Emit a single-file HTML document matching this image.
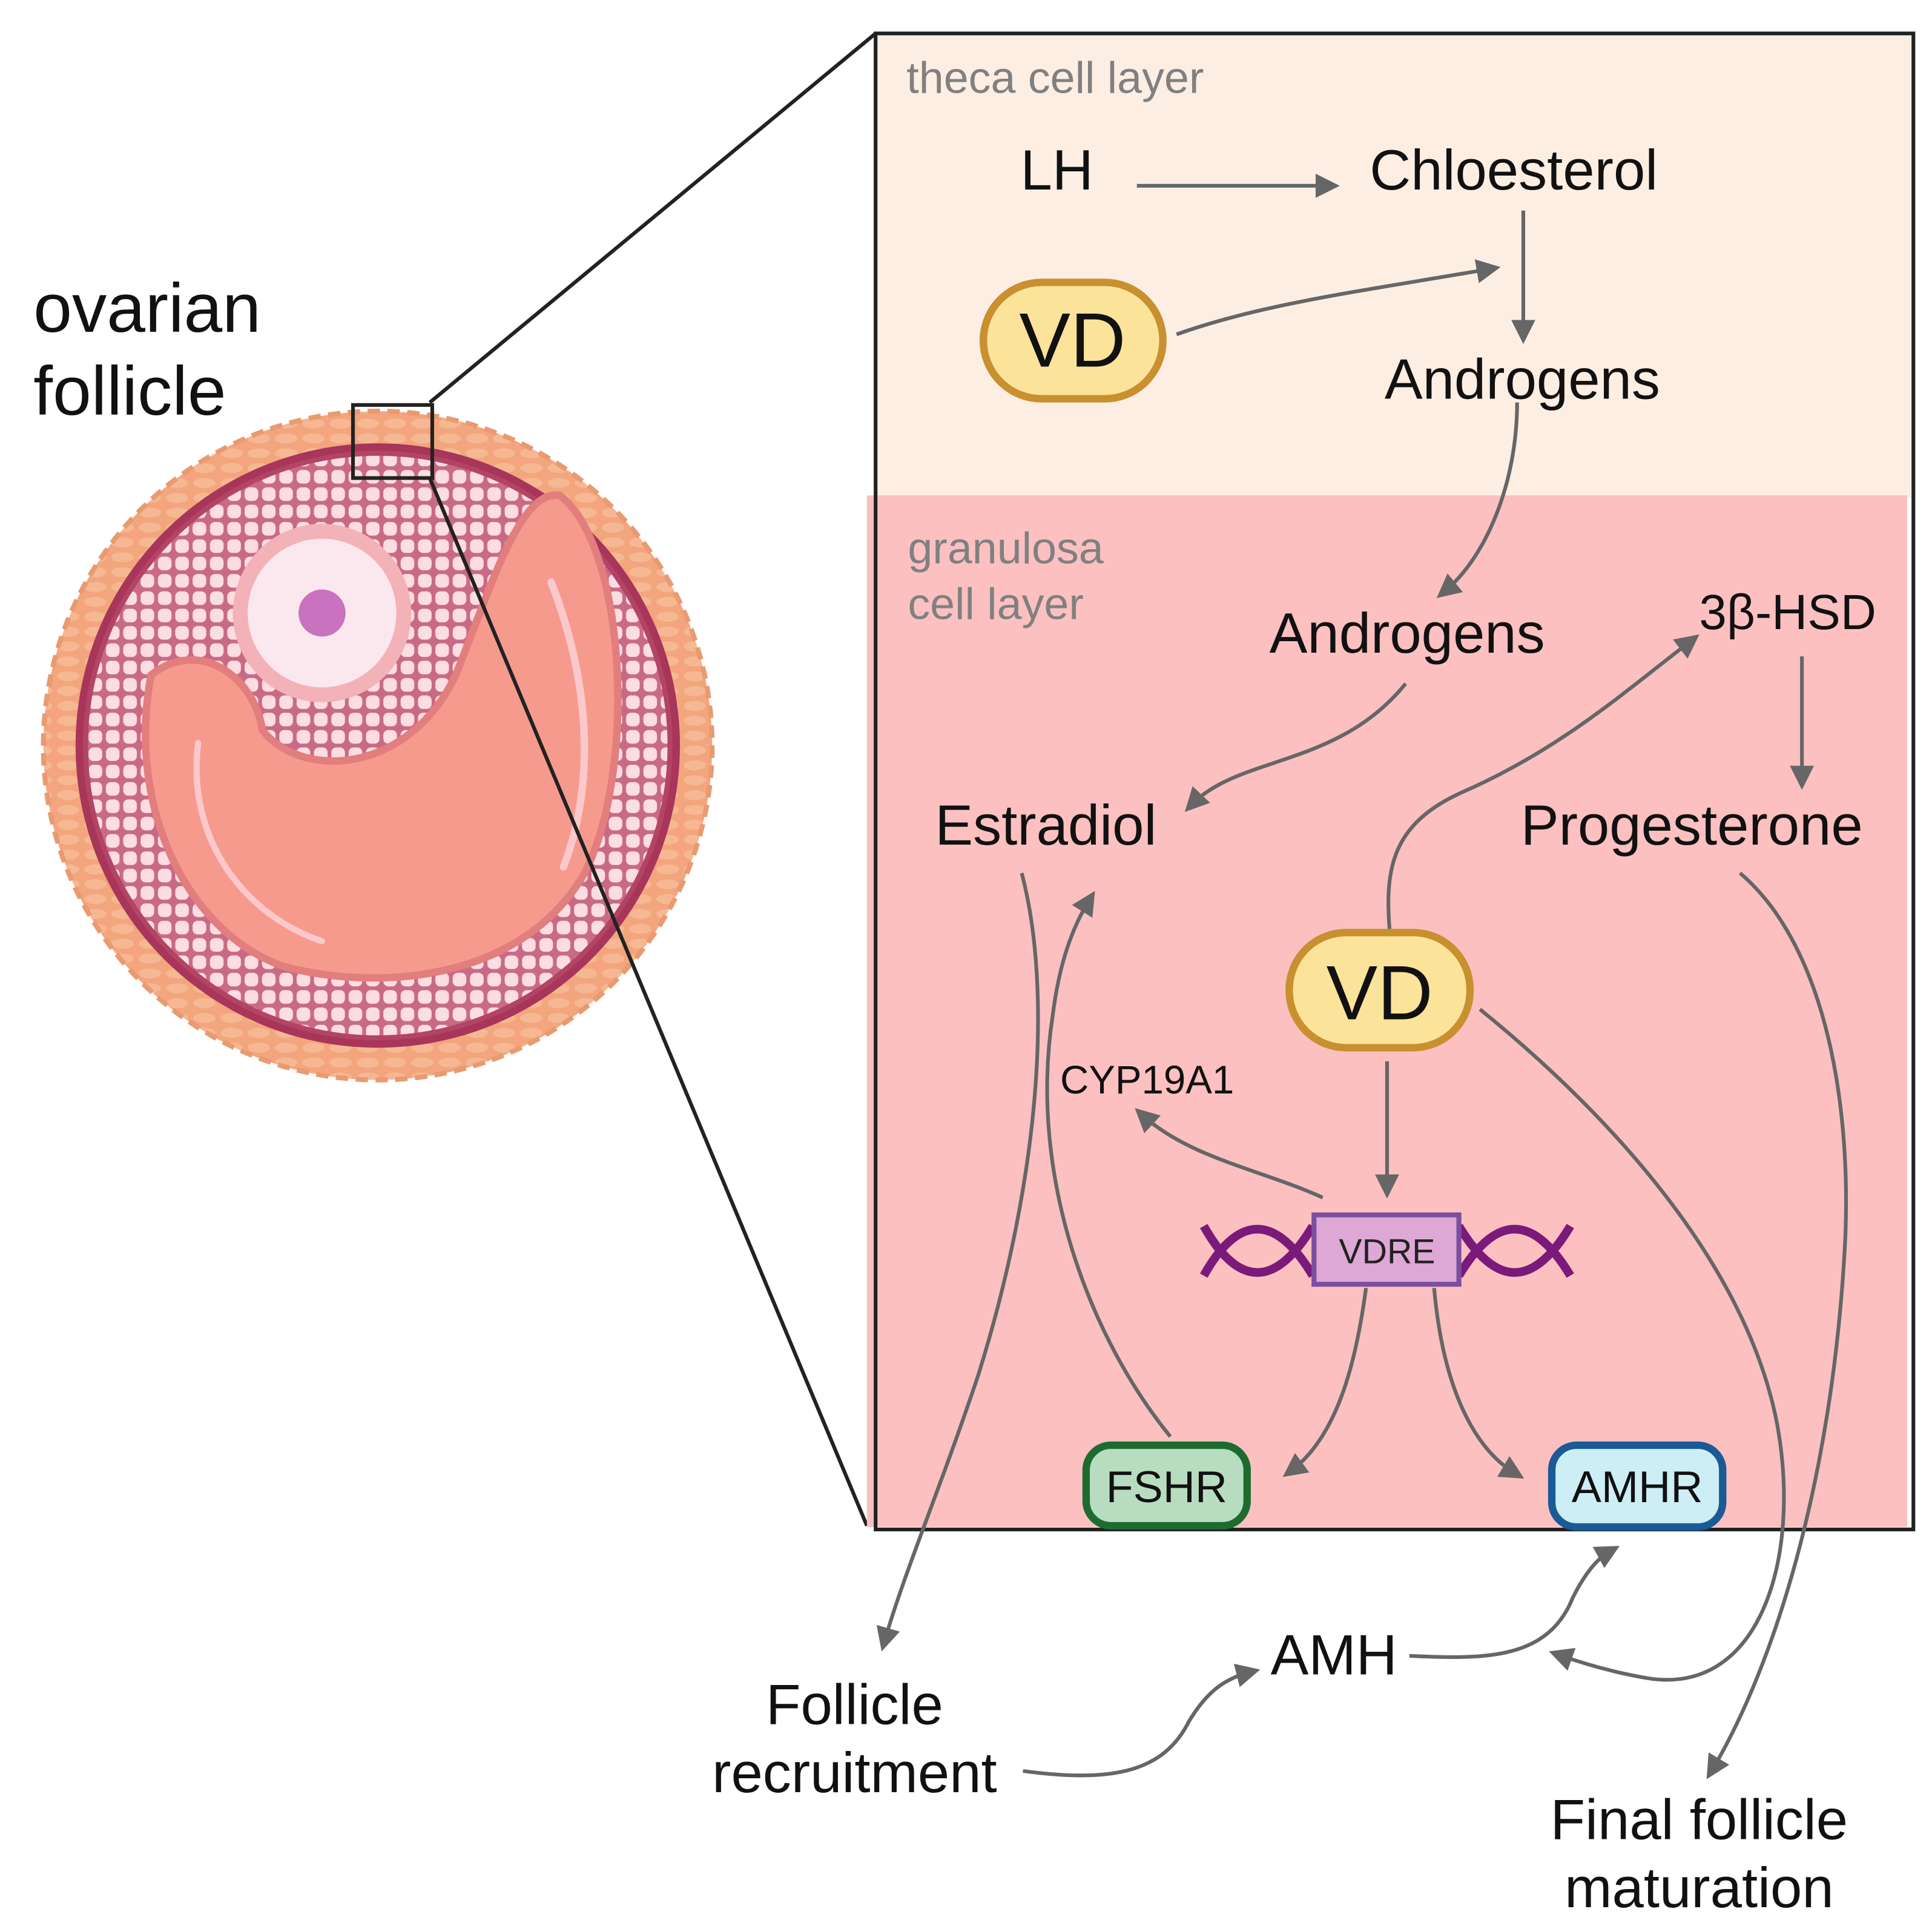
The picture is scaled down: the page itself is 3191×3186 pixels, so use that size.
<!DOCTYPE html>
<html><head><meta charset="utf-8"><style>
html,body{margin:0;padding:0;background:#fff}
svg{display:block}
text{font-family:"Liberation Sans",sans-serif}
</style></head><body>
<svg width="3191" height="3186" viewBox="0 0 1560 1557.6" xmlns="http://www.w3.org/2000/svg">
<defs>
<marker id="ah" viewBox="0 0 10 10" refX="6" refY="5" markerWidth="6.5" markerHeight="6.5" orient="auto-start-reverse">
<path d="M0,0 L10,5 L0,10 z" fill="#666"/></marker>
<pattern id="cells" width="14" height="14" patternUnits="userSpaceOnUse">
<rect width="14" height="14" fill="#c96a85"/>
<rect x="1.5" y="1.5" width="11" height="11" rx="4" fill="#fbdde2"/></pattern>
<pattern id="theca" width="22" height="12" patternUnits="userSpaceOnUse">
<rect width="22" height="12" fill="#f3a57e"/>
<ellipse cx="11" cy="6" rx="9" ry="4" fill="#f6b893"/></pattern>
</defs>

<g>
<circle cx="305" cy="602" r="270" fill="url(#theca)" stroke="#e89a70" stroke-width="4" stroke-dasharray="10 6"/>
<circle cx="305" cy="602" r="244" fill="#a8355a"/>
<circle cx="305" cy="602" r="236" fill="url(#cells)"/>
<circle cx="305" cy="602" r="236" fill="none" stroke="#b34466" stroke-width="4"/>
<path d="M122,545 C160,515 205,545 212,590 C245,630 330,625 368,545 C398,470 420,395 452,400 C505,440 515,620 472,705 C420,795 300,800 228,780 C150,752 102,650 122,545 z" fill="#f79a8e" stroke="#e27e7e" stroke-width="6"/>
<path d="M160,600 C150,680 200,740 260,760" fill="none" stroke="#fbc8cc" stroke-width="5" stroke-linecap="round"/>
<path d="M445,470 C480,560 478,640 455,700" fill="none" stroke="#fbc8cc" stroke-width="6" stroke-linecap="round"/>
<circle cx="260" cy="495" r="72" fill="#f3b2b8"/>
<circle cx="260" cy="495" r="60" fill="#fbe8ee"/>
<circle cx="260" cy="495" r="19" fill="#c872c0"/>
</g>
<rect x="285" y="327" width="64" height="59" fill="none" stroke="#222" stroke-width="3"/>
<line x1="347" y1="325" x2="707" y2="27" stroke="#222" stroke-width="3"/>
<line x1="347" y1="386" x2="700" y2="1232" stroke="#222" stroke-width="3"/>

<text x="27" y="268" font-size="56" fill="#111">ovarian</text>
<text x="27" y="335" font-size="56" fill="#111">follicle</text>

<rect x="707" y="27" width="838" height="375" fill="#fdeee4"/>
<rect x="700" y="400" width="840" height="833" fill="#fcc0c0"/>
<rect x="707" y="27" width="838" height="1208" fill="none" stroke="#222" stroke-width="3"/>

<text x="732" y="75" font-size="36" fill="#808080">theca cell layer</text>
<text x="733" y="455" font-size="36" fill="#808080">granulosa</text>
<text x="733" y="500" font-size="36" fill="#808080">cell layer</text>

<g fill="#111">
<text x="824" y="153" font-size="46">LH</text>
<text x="1106" y="153" font-size="46">Chloesterol</text>
<text x="1118" y="322" font-size="46">Androgens</text>
<text x="1025" y="527" font-size="46">Androgens</text>
<text x="1372" y="508" font-size="40">3β-HSD</text>
<text x="755" y="682" font-size="46">Estradiol</text>
<text x="1228" y="682" font-size="46">Progesterone</text>
<text x="856" y="883" font-size="32">CYP19A1</text>
<text x="1026" y="1352" font-size="46">AMH</text>
<text x="690" y="1392" font-size="46" text-anchor="middle">Follicle</text>
<text x="690" y="1447" font-size="46" text-anchor="middle">recruitment</text>
<text x="1372" y="1485" font-size="46" text-anchor="middle">Final follicle</text>
<text x="1372" y="1540" font-size="46" text-anchor="middle">maturation</text>
</g>

<rect x="794" y="228" width="145" height="94" rx="47" fill="#fbe39a" stroke="#c8902e" stroke-width="6"/>
<text x="866" y="296" font-size="62" text-anchor="middle" fill="#111">VD</text>
<rect x="1041" y="753" width="146" height="93" rx="46" fill="#fbe39a" stroke="#c8902e" stroke-width="6"/>
<text x="1114" y="823" font-size="62" text-anchor="middle" fill="#111">VD</text>

<g fill="none" stroke="#7a1a7a" stroke-width="7">
<path d="M972,990 C1000,1040 1030,1040 1060,990"/>
<path d="M972,1030 C1000,980 1030,980 1060,1030"/>
<path d="M1178,990 C1208,1040 1238,1040 1268,990"/>
<path d="M1178,1030 C1208,980 1238,980 1268,1030"/>
</g>
<rect x="1061" y="981" width="117" height="56" fill="#dda8d5" stroke="#7b4fa0" stroke-width="4"/>
<text x="1120" y="1020" font-size="28" text-anchor="middle" fill="#222">VDRE</text>

<rect x="877" y="1167" width="130" height="65" rx="20" fill="#b8dcc0" stroke="#1e6b30" stroke-width="6"/>
<text x="942" y="1213" font-size="36" text-anchor="middle" fill="#111">FSHR</text>
<rect x="1253" y="1167" width="138" height="66" rx="20" fill="#cdeef5" stroke="#1a5a95" stroke-width="6"/>
<text x="1322" y="1213" font-size="36" text-anchor="middle" fill="#111">AMHR</text>

<g fill="none" stroke="#666" stroke-width="3" marker-end="url(#ah)">
<path d="M918,150 L1074,150"/>
<path d="M950,270 C1020,245 1100,235 1204,217"/>
<path d="M1230,170 L1230,270"/>
<path d="M1225,325 C1225,390 1200,450 1166,478"/>
<path d="M1135,552 C1080,620 1000,610 962,650"/>
<path d="M1455,530 L1455,630"/>
<path d="M1122,750 C1118,700 1125,665 1180,640 C1260,605 1310,560 1366,517"/>
<path d="M1120,857 L1120,960"/>
<path d="M1068,967 C1020,945 960,935 922,900"/>
<path d="M1103,1040 C1095,1100 1080,1160 1042,1188"/>
<path d="M1158,1040 C1165,1120 1190,1170 1224,1190"/>
<path d="M945,1160 C880,1080 830,950 850,820 C855,780 865,750 880,726"/>
<path d="M825,705 C850,800 840,950 790,1110 C760,1200 730,1270 714,1326"/>
<path d="M1138,1337 C1200,1340 1250,1340 1270,1290 C1280,1270 1290,1258 1301,1252"/>
<path d="M826,1430 C900,1440 940,1430 960,1390 C975,1365 990,1355 1010,1350"/>
<path d="M1195,815 C1300,900 1410,1020 1435,1150 C1455,1260 1420,1370 1330,1355 C1300,1350 1275,1342 1258,1336"/>
<path d="M1405,705 C1470,760 1495,880 1490,1000 C1480,1200 1430,1350 1382,1430"/>
</g>
</svg>
</body></html>
